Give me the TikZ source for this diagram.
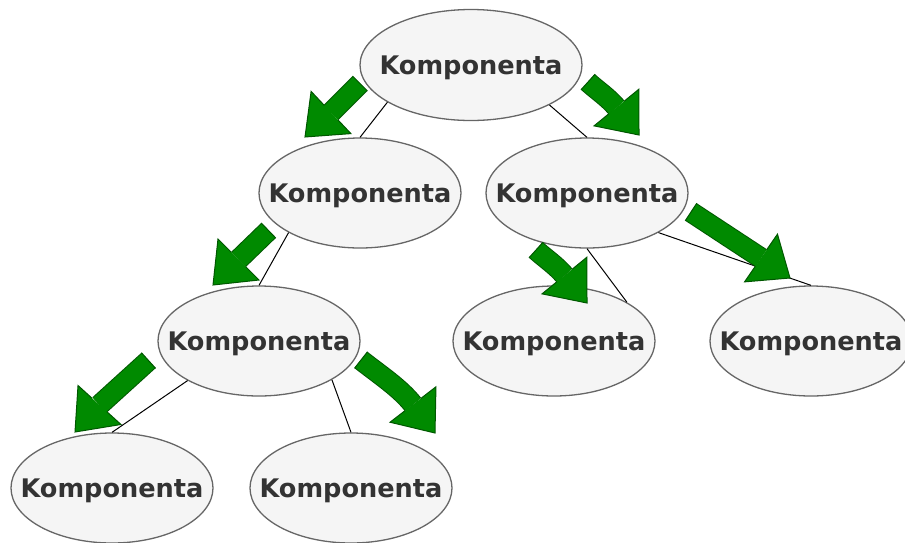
\documentclass[tikz,border=0pt]{standalone}
\usepackage{fontspec}
\setmainfont{DejaVu Sans}
\usetikzlibrary{shapes.geometric,calc}
\definecolor{kompfill}{HTML}{F5F5F5}
\definecolor{kompline}{HTML}{666666}
\definecolor{komptext}{HTML}{333333}
\definecolor{arrowgreen}{HTML}{008A00}
\definecolor{arrowdark}{HTML}{005700}

\newcommand{\greenhead}[2]{%
  \fill[greenfill] ($(#1)!29pt!90:(#2)$) -- (#2) -- ($(#1)!29pt!-90:(#2)$) -- cycle;
  \draw[greenedge] ($(#1)!10pt!90:(#2)$) -- ($(#1)!29pt!90:(#2)$) -- (#2)
    -- ($(#1)!29pt!-90:(#2)$) -- ($(#1)!10pt!-90:(#2)$);}
\newcommand{\greenarrow}[3]{%
  \draw[greenshaft] (#1) -- (#2);
  \draw[greenedge] ($(#1)!10.5pt!90:(#2)$) -- ($(#1)!10.5pt!-90:(#2)$);
  \greenhead{#2}{#3}}
\newcommand{\greenbent}[5]{%
  \draw[greenshaft] (#1) .. controls (#2) and (#3) .. (#4);
  \draw[greenedge] ($(#1)!10.5pt!90:(#2)$) -- ($(#1)!10.5pt!-90:(#2)$);
  \greenhead{#4}{#5}}

\begin{document}
\begin{tikzpicture}[x=1pt,y=-1pt,
  komp/.style={ellipse,draw=kompline,fill=kompfill,line width=1.3pt,
    minimum width=202pt,minimum height=110pt,inner xsep=-30pt,text depth=0pt,
    text=komptext,font=\fontsize{25.6}{30}\selectfont\bfseries},
  link/.style={line width=1pt},
  greenshaft/.style={draw=arrowdark,line width=1pt,double=arrowgreen,double distance=19pt},
  greenedge/.style={draw=arrowdark,line width=1pt,line join=miter},
  greenfill/.style={fill=arrowgreen}]
  \useasboundingbox (0,0) rectangle (905,542);

  \node[komp,minimum width=222pt,minimum height=111pt] at (471,65) (k0) {Komponenta};
  \node[komp] at (360,193) (k1) {Komponenta};
  \node[komp] at (587,193) (k2) {Komponenta};
  \node[komp] at (259,341) (k3) {Komponenta};
  \node[komp] at (554,341) (k4) {Komponenta};
  \node[komp] at (811,341) (k5) {Komponenta};
  \node[komp] at (112,488) (k6) {Komponenta};
  \node[komp] at (351,488) (k7) {Komponenta};

  \draw[link] (k0.204) -- (k1.north);
  \draw[link] (k0.333) -- (k2.north);
  \draw[link] (k1.209) -- (k3.north);
  \draw[link] (k2.south) -- (k4.28);
  \draw[link] (k2.331) -- (k5.north);
  \draw[link] (k3.209) -- (k6.north);
  \draw[link] (k3.332) -- (k7.north);

  \coordinate (a1t) at (360,83.5);
  \coordinate (a1b) at (331,112.5);
  \coordinate (a1p) at (305,137);
  \coordinate (a2t) at (588,82);
  \coordinate (a2c) at (597.4,90.5);
  \coordinate (a2d) at (608.4,97.7);
  \coordinate (a2b) at (616.5,107.5);
  \coordinate (a2p) at (639,135);
  \coordinate (a3t) at (536,250);
  \coordinate (a3c) at (545.4,258.5);
  \coordinate (a3d) at (556.4,265.7);
  \coordinate (a3b) at (564.5,275.5);
  \coordinate (a3p) at (587,303);
  \coordinate (a4t) at (691,212);
  \coordinate (a4b) at (761,258);
  \coordinate (a4p) at (790,278);
  \coordinate (a5t) at (268.5,230.5);
  \coordinate (a5b) at (238.5,259.5);
  \coordinate (a5p) at (213,285);
  \coordinate (a6t) at (148.5,360.5);
  \coordinate (a6b) at (99.5,405);
  \coordinate (a6p) at (75,432);
  \coordinate (a7t) at (361,360);
  \coordinate (a7c) at (380,375);
  \coordinate (a7d) at (400,388);
  \coordinate (a7b) at (413,404.5);
  \coordinate (a7p) at (435,433);

  \greenarrow{a1t}{a1b}{a1p}
  \greenbent{a2t}{a2c}{a2d}{a2b}{a2p}
  \greenbent{a3t}{a3c}{a3d}{a3b}{a3p}
  \greenarrow{a4t}{a4b}{a4p}
  \greenarrow{a5t}{a5b}{a5p}
  \greenarrow{a6t}{a6b}{a6p}
  \greenbent{a7t}{a7c}{a7d}{a7b}{a7p}
\end{tikzpicture}
\end{document}
